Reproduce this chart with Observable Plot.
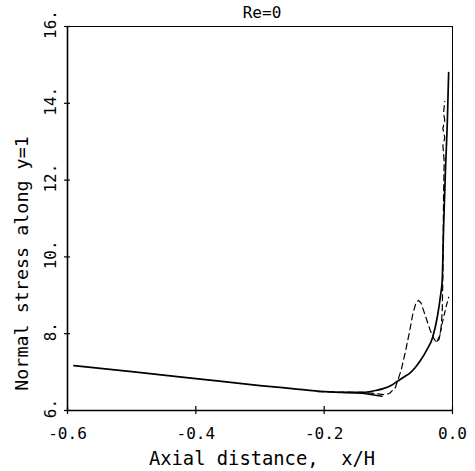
<!DOCTYPE html>
<html><head><meta charset="utf-8">
<script src="https://cdn.jsdelivr.net/npm/d3@7"></script>
<script src="https://cdn.jsdelivr.net/npm/@observablehq/plot@0.6"></script>
<style>body{margin:0;background:#fff}</style>
</head><body><div id="chart"></div>
<script>
const xTicks = [-0.6, -0.4, -0.2, 0.0];
const xTickLabels = ["-0.6", "-0.4", "-0.2", "0.0"];
const yTicks = [6, 8, 10, 12, 14, 16];
const yTickLabels = ["6.", "8.", "10.", "12.", "14.", "16."];
const titleText = "Re=0";
const xLabel = "Axial distance,\u00a0\u00a0x/H";
const yLabel = "Normal stress along y=1";

// solid curve
const solidX = [-0.59, -0.5, -0.4, -0.3, -0.25, -0.2, -0.17, -0.14, -0.12, -0.108, -0.095, -0.085, -0.075, -0.066, -0.058, -0.05, -0.04, -0.031, -0.023, -0.019, -0.016, -0.014, -0.011, -0.008, -0.006];
const solidY = [7.17, 7.01, 6.83, 6.65, 6.57, 6.49, 6.47, 6.47, 6.52, 6.57, 6.66, 6.77, 6.88, 6.98, 7.12, 7.30, 7.58, 7.90, 8.50, 8.95, 9.40, 10.70, 12.25, 13.55, 14.80];
// short solid branch that drops away
const branchX = [-0.17, -0.14, -0.125, -0.11];
const branchY = [6.47, 6.45, 6.41, 6.37];
// dashed curve with the large bump
const dashX = [-0.21, -0.17, -0.14, -0.12, -0.105, -0.098, -0.089, -0.08, -0.073, -0.067, -0.062, -0.057, -0.053, -0.049, -0.045, -0.04, -0.035, -0.03, -0.027, -0.024, -0.021, -0.018, -0.016, -0.015, -0.0145, -0.014, -0.013, -0.015, -0.012, -0.015, -0.012, -0.014, -0.012];
const dashY = [6.49, 6.48, 6.47, 6.44, 6.41, 6.45, 6.60, 7.05, 7.56, 8.05, 8.50, 8.80, 8.87, 8.80, 8.60, 8.35, 8.10, 7.90, 7.82, 7.78, 7.85, 8.10, 8.60, 9.50, 10.50, 11.50, 12.50, 12.90, 13.10, 13.35, 13.55, 13.75, 14.05];
// second dashed piece rising near the wall
const dash2X = [-0.024, -0.02, -0.015, -0.01, -0.006];
const dash2Y = [7.80, 7.95, 8.35, 8.70, 8.95];

const rows = (xs, ys) => xs.map((x, i) => ({x, y: ys[i]}));
const font = "DejaVu Sans Mono";

const chart = Plot.plot({
  width: 475, height: 471,
  marginLeft: 67, marginRight: 23, marginTop: 26, marginBottom: 61,
  x: {domain: [-0.6, 0], axis: null},
  y: {domain: [6, 16], axis: null},
  style: {fontFamily: font, background: "#fff", color: "#000"},
  marks: [
    Plot.frame({stroke: "#000", strokeWidth: 1}),
    Plot.ruleX([-0.6], {stroke: "#000", strokeWidth: 1.6}),
    Plot.ruleY([6], {stroke: "#000", strokeWidth: 1.6}),
    Plot.ruleX(xTicks, {x: d => d, y1: 6, y2: 6, insetTop: -4, insetBottom: -4, stroke: "#000", strokeWidth: 1.2}),
    Plot.ruleY(yTicks, {y: d => d, x1: -0.6, x2: -0.6, insetLeft: -3, insetRight: -3, stroke: "#000", strokeWidth: 1.2}),
    Plot.text(xTicks, {x: d => d, y: 6, text: (d, i) => xTickLabels[i], dy: 23, fontSize: 16, fill: "#000"}),
    Plot.text(yTicks, {x: -0.6, y: d => d, text: (d, i) => yTickLabels[i], rotate: -90, dx: -17, dy: -2, fontSize: 16, fill: "#000"}),
    Plot.text([titleText], {frameAnchor: "top", textAnchor: "middle", lineAnchor: "middle", text: d => d, dy: -14, dx: 2, fontSize: 16, fill: "#000"}),
    Plot.text([xLabel], {frameAnchor: "bottom", textAnchor: "middle", lineAnchor: "middle", text: d => d, dy: 48, dx: 2, fontSize: 18.8, fill: "#000"}),
    Plot.text([yLabel], {frameAnchor: "left", textAnchor: "middle", lineAnchor: "middle", text: d => d, rotate: -90, dx: -45, dy: 45, fontSize: 18.4, fill: "#000"}),
    Plot.line(rows(dashX, dashY), {x: "x", y: "y", stroke: "#000", strokeWidth: 1.2, strokeDasharray: "6,4"}),
    Plot.line(rows(dash2X, dash2Y), {x: "x", y: "y", stroke: "#000", strokeWidth: 1.2, strokeDasharray: "5,4"}),
    Plot.line(rows(branchX, branchY), {x: "x", y: "y", stroke: "#000", strokeWidth: 1.5}),
    Plot.line(rows(solidX, solidY), {x: "x", y: "y", stroke: "#000", strokeWidth: 1.7, curve: "monotone-x"})
  ]
});
document.getElementById("chart").appendChild(chart);
</script>
</body></html>
